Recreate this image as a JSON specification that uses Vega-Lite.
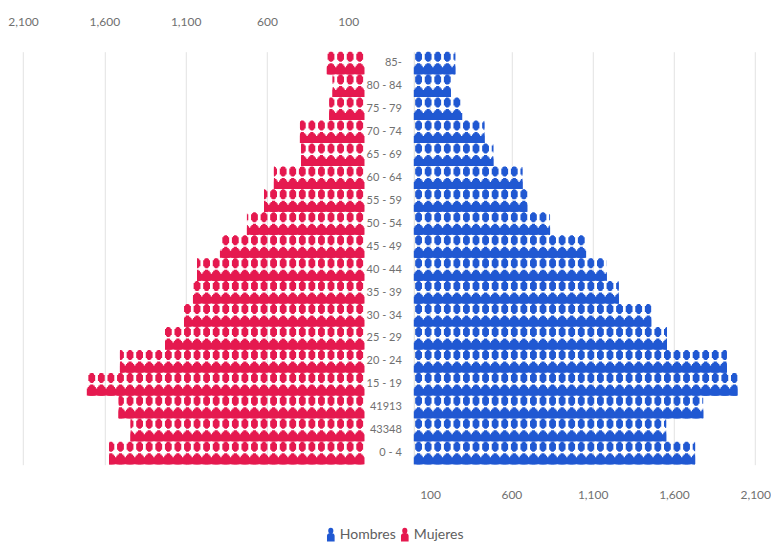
{"$schema":"https://vega.github.io/schema/vega-lite/v6.json","padding":{"left":6.8,"top":15.7,"right":0,"bottom":0},"background":"white","spacing":0,"bounds":"flush","config":{"view":{"stroke":null},"font":"Lato"},"datasets":{"pop":[
{"age":"85-","sex":"Hombres","value":255,"base":0},{"age":"80 - 84","sex":"Hombres","value":228,"base":0},{"age":"75 - 79","sex":"Hombres","value":298,"base":0},{"age":"70 - 74","sex":"Hombres","value":434,"base":0},{"age":"65 - 69","sex":"Hombres","value":489,"base":0},{"age":"60 - 64","sex":"Hombres","value":668,"base":0},{"age":"55 - 59","sex":"Hombres","value":698,"base":0},{"age":"50 - 54","sex":"Hombres","value":838,"base":0},{"age":"45 - 49","sex":"Hombres","value":1060,"base":0},{"age":"40 - 44","sex":"Hombres","value":1187,"base":0},{"age":"35 - 39","sex":"Hombres","value":1260,"base":0},{"age":"30 - 34","sex":"Hombres","value":1460,"base":0},{"age":"25 - 29","sex":"Hombres","value":1557,"base":0},{"age":"20 - 24","sex":"Hombres","value":1925,"base":0},{"age":"15 - 19","sex":"Hombres","value":1990,"base":0},{"age":"41913","sex":"Hombres","value":1780,"base":0},{"age":"43348","sex":"Hombres","value":1552,"base":0},{"age":"0 - 4","sex":"Hombres","value":1730,"base":0},
{"age":"85-","sex":"Mujeres","value":232,"base":0},{"age":"80 - 84","sex":"Mujeres","value":196,"base":0},{"age":"75 - 79","sex":"Mujeres","value":216,"base":0},{"age":"70 - 74","sex":"Mujeres","value":397,"base":0},{"age":"65 - 69","sex":"Mujeres","value":390,"base":0},{"age":"60 - 64","sex":"Mujeres","value":557,"base":0},{"age":"55 - 59","sex":"Mujeres","value":618,"base":0},{"age":"50 - 54","sex":"Mujeres","value":723,"base":0},{"age":"45 - 49","sex":"Mujeres","value":889,"base":0},{"age":"40 - 44","sex":"Mujeres","value":1030,"base":0},{"age":"35 - 39","sex":"Mujeres","value":1055,"base":0},{"age":"30 - 34","sex":"Mujeres","value":1110,"base":0},{"age":"25 - 29","sex":"Mujeres","value":1227,"base":0},{"age":"20 - 24","sex":"Mujeres","value":1504,"base":0},{"age":"15 - 19","sex":"Mujeres","value":1708,"base":0},{"age":"41913","sex":"Mujeres","value":1512,"base":0},{"age":"43348","sex":"Mujeres","value":1438,"base":0},{"age":"0 - 4","sex":"Mujeres","value":1571,"base":0}
]},
"hconcat":[
{"width":357.7,"height":413,"data":{"name":"pop"},"transform":[{"filter":"datum.sex === 'Mujeres'"}],
"encoding":{
"y":{"field":"age","type":"nominal","sort":null,"scale":{"type":"point","padding":0.5},"axis":null},
"x":{"field":"base","type":"quantitative","scale":{"domain":[0,2200],"reverse":true,"nice":false},"title":null,"axis":{"orient":"top","values":[100,600,1100,1600,2100],"format":",.0f","grid":true,"gridColor":"#e2e2e2","domain":false,"ticks":false,"labelPadding":23,"labelFont":"Lato","labelFontSize":12,"labelColor":"#707070"}},
"x2":{"field":"value"},
"color":{"field":"sex","type":"nominal","scale":{"domain":["Hombres","Mujeres"],"range":["#2058D2","#E5194F"]},"legend":{"orient":"none","legendX":317,"legendY":475.5,"direction":"horizontal","title":null,"symbolType":"M0,-1 C.25,-1 .3,-.8 .3,-.62 C.3,-.4 .2,-.25 0,-.25 C-.2,-.25 -.3,-.4 -.3,-.62 C-.3,-.8 -.25,-1 0,-1 Z M-.5,1 L-.5,.2 C-.5,-.05 -.25,-.15 0,-.15 C.25,-.15 .5,-.05 .5,.2 L.5,1 Z","symbolSize":150,"labelFont":"Lato","labelFontSize":14,"labelColor":"#606060","labelOffset":2,"columnPadding":1,"encode":{"symbols":{"update":{"fill":{"scale":"color","field":"value"}}}}}}
},
"layer":[
{"mark":{"type":"rule","yOffset":-6.5,"strokeWidth":10,"strokeDash":[2.6,6.97],"strokeDashOffset":6.085}},
{"mark":{"type":"rule","yOffset":-6.5,"strokeWidth":8.6,"strokeDash":[4.6,4.97],"strokeDashOffset":7.085}},
{"mark":{"type":"rule","yOffset":-6.5,"strokeWidth":6,"strokeDash":[6.8,2.77],"strokeDashOffset":8.185}},
{"mark":{"type":"rule","yOffset":5.5,"strokeWidth":11,"strokeDash":[3.2,6.37],"strokeDashOffset":6.385}},
{"mark":{"type":"rule","yOffset":6.1,"strokeWidth":9.8,"strokeDash":[6,3.57],"strokeDashOffset":7.785}},
{"mark":{"type":"rule","yOffset":6.75,"strokeWidth":8.5,"strokeDash":[8.2,1.37],"strokeDashOffset":8.885}},
{"mark":{"type":"rule","yOffset":7.5,"strokeWidth":7}}
]},
{"width":48.5,"height":413,"data":{"name":"pop"},"transform":[{"filter":"datum.sex === 'Hombres'"}],
"mark":{"type":"text","align":"right","baseline":"middle","x":37,"font":"Lato","fontSize":11,"color":"#707070"},
"encoding":{"y":{"field":"age","type":"nominal","sort":null,"scale":{"type":"point","padding":0.5},"axis":null},"text":{"field":"age","type":"nominal"}}},
{"width":357.7,"height":413,"data":{"name":"pop"},"transform":[{"filter":"datum.sex === 'Hombres'"}],
"encoding":{
"y":{"field":"age","type":"nominal","sort":null,"scale":{"type":"point","padding":0.5},"axis":{"labels":false,"ticks":false,"title":null,"domain":true,"domainColor":"#dddddd","grid":false,"minExtent":0,"maxExtent":0}},
"x":{"field":"base","type":"quantitative","scale":{"domain":[0,2200],"nice":false},"title":null,"axis":{"orient":"bottom","values":[100,600,1100,1600,2100],"format":",.0f","grid":true,"gridColor":"#e2e2e2","domain":false,"ticks":false,"labelPadding":25,"labelFont":"Lato","labelFontSize":12,"labelColor":"#707070"}},
"x2":{"field":"value"},
"color":{"field":"sex","type":"nominal","scale":{"domain":["Hombres","Mujeres"],"range":["#2058D2","#E5194F"]},"legend":{"orient":"none","legendX":317,"legendY":475.5,"direction":"horizontal","title":null,"symbolType":"M0,-1 C.25,-1 .3,-.8 .3,-.62 C.3,-.4 .2,-.25 0,-.25 C-.2,-.25 -.3,-.4 -.3,-.62 C-.3,-.8 -.25,-1 0,-1 Z M-.5,1 L-.5,.2 C-.5,-.05 -.25,-.15 0,-.15 C.25,-.15 .5,-.05 .5,.2 L.5,1 Z","symbolSize":150,"labelFont":"Lato","labelFontSize":14,"labelColor":"#606060","labelOffset":2,"columnPadding":1,"encode":{"symbols":{"update":{"fill":{"scale":"color","field":"value"}}}}}}
},
"layer":[
{"mark":{"type":"rule","yOffset":-6.5,"strokeWidth":10,"strokeDash":[2.6,6.97],"strokeDashOffset":6.085}},
{"mark":{"type":"rule","yOffset":-6.5,"strokeWidth":8.6,"strokeDash":[4.6,4.97],"strokeDashOffset":7.085}},
{"mark":{"type":"rule","yOffset":-6.5,"strokeWidth":6,"strokeDash":[6.8,2.77],"strokeDashOffset":8.185}},
{"mark":{"type":"rule","yOffset":5.5,"strokeWidth":11,"strokeDash":[3.2,6.37],"strokeDashOffset":6.385}},
{"mark":{"type":"rule","yOffset":6.1,"strokeWidth":9.8,"strokeDash":[6,3.57],"strokeDashOffset":7.785}},
{"mark":{"type":"rule","yOffset":6.75,"strokeWidth":8.5,"strokeDash":[8.2,1.37],"strokeDashOffset":8.885}},
{"mark":{"type":"rule","yOffset":7.5,"strokeWidth":7}}
]}
],
"resolve":{"scale":{"color":"shared"},"legend":{"color":"shared"}}}
